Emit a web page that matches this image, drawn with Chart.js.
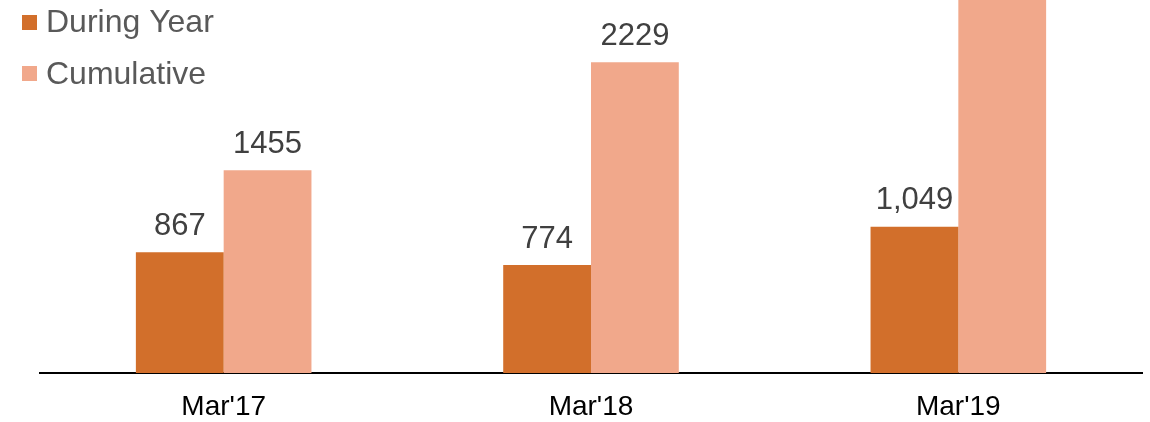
<!DOCTYPE html>
<html>
<head>
<meta charset="utf-8">
<script src="https://cdn.jsdelivr.net/npm/chart.js@4/dist/chart.umd.min.js"></script>
<style>
  html, body { margin: 0; padding: 0; background: #ffffff; }
  #wrap { width: 1150px; height: 422px; position: relative; }
</style>
</head>
<body>
<div id="wrap"><canvas id="c" width="1150" height="422"></canvas></div>
<script>
const categories = ["Mar'17", "Mar'18", "Mar'19"];
const seriesNames = ["During Year", "Cumulative"];
const duringYear = [867, 774, 1049];
const cumulative = [1455, 2229, 3278];
const duringYearLabels = ["867", "774", "1,049"];
const cumulativeLabels = ["1455", "2229", "3278"];

const COLORS = ["#D26F2B", "#F1A88B"];
const FONT = "'Liberation Sans', Arial, sans-serif";

const valueLabelPlugin = {
  id: 'valueLabels',
  afterDatasetsDraw(chart) {
    const ctx = chart.ctx;
    const labelSets = [duringYearLabels, cumulativeLabels];
    ctx.save();
    ctx.font = "31px " + FONT;
    ctx.fillStyle = "#404040";
    ctx.textAlign = "center";
    ctx.textBaseline = "alphabetic";
    chart.data.datasets.forEach((ds, di) => {
      const meta = chart.getDatasetMeta(di);
      meta.data.forEach((bar, i) => {
        const y = bar.y - 17.5;
        if (y > 20) ctx.fillText(labelSets[di][i], bar.x, y);
      });
    });
    ctx.restore();
  }
};

const legendPlugin = {
  id: 'customLegend',
  afterDraw(chart) {
    const ctx = chart.ctx;
    ctx.save();
    ctx.font = "32px " + FONT;
    ctx.textBaseline = "alphabetic";
    ctx.textAlign = "left";
    const rows = [{ sq: 15, base: 32 }, { sq: 66, base: 84 }];
    seriesNames.forEach((name, i) => {
      ctx.fillStyle = COLORS[i];
      ctx.fillRect(22, rows[i].sq, 15, 15);
      ctx.fillStyle = "#595959";
      ctx.fillText(name, 46, rows[i].base);
    });
    ctx.restore();
  }
};

new Chart(document.getElementById('c'), {
  type: 'bar',
  data: {
    labels: categories,
    datasets: [
      { label: seriesNames[0], data: duringYear, backgroundColor: COLORS[0], borderWidth: 0 },
      { label: seriesNames[1], data: cumulative, backgroundColor: COLORS[1], borderWidth: 0 }
    ]
  },
  options: {
    responsive: false,
    animation: false,
    devicePixelRatio: 1,
    layout: { padding: { left: 40, right: 8, top: 0, bottom: 0 } },
    plugins: {
      legend: { display: false },
      tooltip: { enabled: false },
      title: { display: false }
    },
    datasets: {
      bar: { barPercentage: 1.0, categoryPercentage: 0.478 }
    },
    scales: {
      x: {
        grid: { display: false, drawTicks: false },
        border: { display: true, color: '#000000', width: 2 },
        ticks: {
          color: '#000000',
          font: { family: FONT, size: 28 },
          padding: 17,
          maxRotation: 0
        },
        afterFit(scale) { scale.height = 49; }
      },
      y: {
        display: false,
        min: 0,
        max: 2676
      }
    }
  },
  plugins: [valueLabelPlugin, legendPlugin]
});
</script>
</body>
</html>
